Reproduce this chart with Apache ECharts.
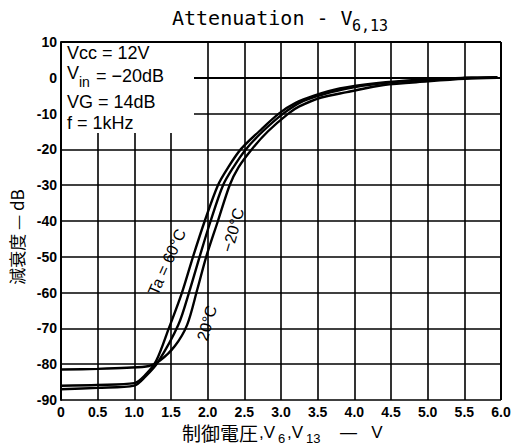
<!DOCTYPE html>
<html>
<head>
<meta charset="utf-8">
<script src="https://cdn.jsdelivr.net/npm/echarts@6/dist/echarts.min.js"></script>
<style>
  html, body { margin: 0; padding: 0; background: #fff; }
  #chart { width: 516px; height: 445px; }
</style>
</head>
<body>
<div id="chart"></div>
<script>
(function() {
  var ink = '#000';

  // control voltage (V) vs attenuation (dB)
  var ta60V  = [0, 0.5, 1.0, 1.15, 1.3, 1.47, 1.65, 1.8, 1.96, 2.14, 2.28, 2.45, 2.7, 2.97, 3.2, 3.45, 3.8, 4.3, 4.9, 5.5, 5.95];
  var ta60dB = [-86, -85.8, -85.3, -83, -79, -70, -60, -50, -40, -30, -25, -20, -15, -10, -7, -5, -3, -1.5, -0.5, 0, 0.2];

  var ta20V  = [0, 0.5, 1.0, 1.15, 1.32, 1.6, 1.76, 1.89, 2.04, 2.21, 2.35, 2.52, 2.75, 3.03, 3.3, 3.6, 3.9, 4.4, 5.0, 5.6, 5.95];
  var ta20dB = [-87, -86.6, -86, -83.5, -79.5, -69, -59, -50, -40, -30, -25, -20, -15, -10, -6.5, -4.5, -3, -1.5, -0.6, 0, 0.1];

  var taM20V  = [0, 0.5, 0.9, 1.2, 1.35, 1.55, 1.72, 1.86, 1.98, 2.14, 2.3, 2.42, 2.6, 2.82, 3.1, 3.25, 3.55, 3.9, 4.4, 5.0, 5.5, 5.95];
  var taM20dB = [-81.5, -81.3, -81, -80.5, -79, -75, -69, -59, -50, -40, -30, -25, -20, -15, -10, -8, -5.5, -4, -2, -1, -0.3, 0];

  var xTicks = [0, 0.5, 1.0, 1.5, 2.0, 2.5, 3.0, 3.5, 4.0, 4.5, 5.0, 5.5, 6.0];
  var yTicks = [10, 0, -10, -20, -30, -40, -50, -60, -70, -80, -90];

  function pairs(xs, ys) {
    return xs.map(function(x, i) { return [x, ys[i]]; });
  }

  function curve(name, xs, ys) {
    return {
      name: name,
      type: 'line',
      data: pairs(xs, ys),
      smooth: 0.3,
      symbol: 'none',
      z: 5,
      lineStyle: { color: ink, width: 2.4 }
    };
  }

  var chart = echarts.init(document.getElementById('chart'), null, { renderer: 'svg' });

  var tickFont = { color: ink, fontSize: 14, fontWeight: 'bold', fontFamily: 'Liberation Sans' };
  var sans = 'Liberation Sans';
  var cjk = '"Noto Sans CJK JP"';

  chart.setOption({
    animation: false,
    backgroundColor: '#fff',
    grid: { left: 61, right: 15, top: 42, bottom: 45 },
    xAxis: {
      type: 'value',
      min: xTicks[0],
      max: xTicks[xTicks.length - 1],
      interval: 0.5,
      axisLine: { show: true, lineStyle: { color: ink, width: 2 } },
      axisTick: { show: false },
      axisLabel: Object.assign({
        margin: 5,
        formatter: function(v) { return v === 0 ? '0' : v.toFixed(1); }
      }, tickFont),
      splitLine: { show: true, lineStyle: { color: ink, width: 1.6 } }
    },
    yAxis: {
      type: 'value',
      min: yTicks[yTicks.length - 1],
      max: yTicks[0],
      interval: 10,
      axisLine: { show: true, lineStyle: { color: ink, width: 2 } },
      axisTick: { show: false },
      axisLabel: Object.assign({ margin: 4 }, tickFont),
      splitLine: { show: true, lineStyle: { color: ink, width: 1.6 } }
    },
    series: [
      curve('Ta=60°C', ta60V, ta60dB),
      curve('Ta=20°C', ta20V, ta20dB),
      curve('Ta=-20°C', taM20V, taM20dB),
      {
        type: 'line', data: [], silent: true,
        markLine: { symbol: 'none', silent: true, label: { show: false },
          lineStyle: { color: ink, width: 2, type: 'solid' },
          data: [{ xAxis: 6 }, { yAxis: 10 }] }
      }
    ],
    graphic: [
      { type: 'text', left: 172, top: 8,
        style: { text: 'Attenuation - V', font: '20px "DejaVu Sans Mono"', fill: ink } },
      { type: 'text', left: 352, top: 18,
        style: { text: '6,13', font: '15px "DejaVu Sans Mono"', fill: ink } },

      // conditions block sits on a white patch that hides the grid
      { type: 'rect', shape: { x: 62, y: 43, width: 132, height: 90 },
        style: { fill: '#fff' }, z: 10 },
      { type: 'text', left: 67, top: 44, z: 11, style: { text: 'Vcc = 12V', font: '18px ' + sans, fill: ink } },
      { type: 'text', left: 67, top: 64, z: 11, style: { text: 'V', font: '18px ' + sans, fill: ink } },
      { type: 'text', left: 79, top: 75, z: 11, style: { text: 'in', font: '14px ' + sans, fill: ink } },
      { type: 'text', left: 96, top: 67, z: 11, style: { text: '= \u221220dB', font: '18px ' + sans, fill: ink } },
      { type: 'text', left: 67, top: 93, z: 11, style: { text: 'VG = 14dB', font: '18px ' + sans, fill: ink } },
      { type: 'text', left: 67, top: 114, z: 11, style: { text: 'f = 1kHz', font: '18px ' + sans, fill: ink } },

      { type: 'text', x: 167, y: 262, rotation: 66 * Math.PI / 180,
        style: { text: 'Ta = 60°C', font: '16px ' + sans, fill: ink, align: 'center', verticalAlign: 'middle' } },
      { type: 'text', x: 233, y: 230, rotation: 74 * Math.PI / 180,
        style: { text: '\u221220°C', font: '16px ' + sans, fill: ink, align: 'center', verticalAlign: 'middle' } },
      { type: 'text', x: 207, y: 323, rotation: 74 * Math.PI / 180,
        style: { text: '20°C', font: '16px ' + sans, fill: ink, align: 'center', verticalAlign: 'middle' } },

      { type: 'text', x: 16, y: 237, rotation: Math.PI / 2,
        style: { text: '減衰度 — dB', font: '17px ' + cjk, fill: ink, align: 'center', verticalAlign: 'middle' } },
      { type: 'text', x: 258, y: 432,
        style: { text: '制御電圧', font: '19px ' + cjk, fill: ink, align: 'right', verticalAlign: 'middle' } },
      { type: 'text', x: 259, y: 432,
        style: { text: ',V', font: '17px ' + sans, fill: ink, verticalAlign: 'middle' } },
      { type: 'text', x: 278, y: 438,
        style: { text: '6', font: '13px ' + sans, fill: ink, verticalAlign: 'middle' } },
      { type: 'text', x: 287, y: 432,
        style: { text: ',V', font: '17px ' + sans, fill: ink, verticalAlign: 'middle' } },
      { type: 'text', x: 306, y: 438,
        style: { text: '13', font: '13px ' + sans, fill: ink, verticalAlign: 'middle' } },
      { type: 'text', x: 340, y: 432,
        style: { text: '—   V', font: '17px ' + sans, fill: ink, verticalAlign: 'middle' } }
    ]
  });

  window.addEventListener('resize', function() { chart.resize(); });
})();
</script>
</body>
</html>
